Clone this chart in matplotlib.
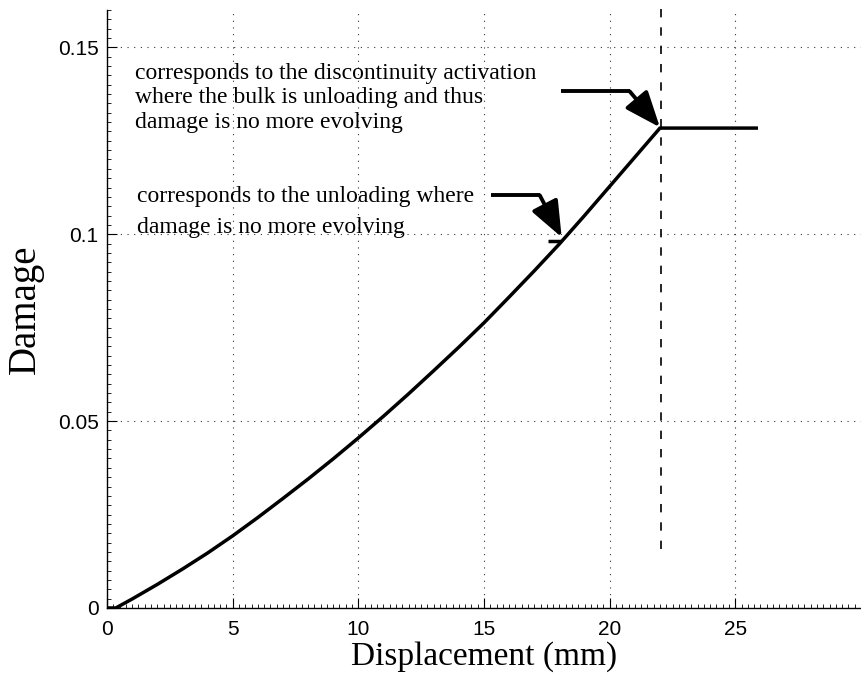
import matplotlib
matplotlib.use("Agg")
import matplotlib.pyplot as plt
from matplotlib.ticker import MultipleLocator

# Data
disp = [0.0, 0.35, 1, 2, 3, 4, 5, 6, 7, 8, 9, 10, 11, 12, 13, 14, 15, 16, 17, 18,
        19, 20, 21, 22.0, 23.9, 25.9]
damage = [0.0, 0.0, 0.0024, 0.0063, 0.0104, 0.0147, 0.0193, 0.0242, 0.0293, 0.0345,
          0.0399, 0.0455, 0.0513, 0.0573, 0.0635, 0.0698, 0.0763, 0.0832, 0.0902,
          0.0974, 0.1050, 0.1128, 0.1206, 0.1284, 0.1284, 0.1284]
unload_x = [17.55, 18.05]
unload_y = [0.0981, 0.0981]
activation_x = 22.05
activation_y = [0.0158, 0.163]

xticks = [0, 5, 10, 15, 20, 25]
yticks = [0, 0.05, 0.1, 0.15]
ytick_labels = ["0", "0.05", "0.1", "0.15"]

note1 = ["corresponds to the discontinuity activation",
         "where the bulk is unloading and thus",
         "damage is no more evolving"]
note2 = ["corresponds to the unloading where",
         "damage is no more evolving"]

serif = ["Liberation Serif", "DejaVu Serif"]
sans = ["Liberation Sans", "DejaVu Sans"]

fig = plt.figure(figsize=(8.61, 6.93), dpi=100)
ax = fig.add_axes([0.1243, 0.1227, 0.8757, 0.8629])

ax.plot(disp, damage, color="black", lw=2.5, solid_capstyle="butt", solid_joinstyle="round")
ax.plot(unload_x, unload_y, color="black", lw=2.5, solid_capstyle="butt")
ax.plot([activation_x, activation_x], activation_y, color="black", lw=1.2,
        linestyle=(0, (5, 6)), clip_on=False)

ax.set_xlim(0, 30)
ax.set_ylim(0, 0.16)
ax.set_xticks(xticks)
ax.set_xticklabels([str(t) for t in xticks], fontfamily=sans, fontsize=15)
ax.set_yticks(yticks)
ax.set_yticklabels(ytick_labels, fontfamily=sans, fontsize=15)
ax.xaxis.set_minor_locator(MultipleLocator(0.25))
ax.yaxis.set_minor_locator(MultipleLocator(0.0025))
ax.tick_params(which="major", direction="in", length=7, width=0.8)
ax.tick_params(axis="x", which="major", pad=9)
ax.tick_params(axis="y", which="major", pad=6)
ax.tick_params(which="minor", direction="in", length=3, width=0.6)
for s in ["top", "right"]:
    ax.spines[s].set_visible(False)
for s in ["left", "bottom"]:
    ax.spines[s].set_linewidth(1.0)

ax.grid(True, which="major", color="black", linestyle=(0, (1, 5)), linewidth=0.8, alpha=0.8)

ax.set_xlabel("Displacement (mm)", fontfamily=serif, fontsize=24, labelpad=1)
ax.set_ylabel("Damage", fontfamily=serif, fontsize=28, labelpad=10)

# Annotations
for txt, yy in zip(note1, [0.1430, 0.1366, 0.1300]):
    ax.text(1.1, yy, txt, fontfamily=serif, fontsize=17, va="center", ha="left")
for txt, yy in zip(note2, [0.1102, 0.1017]):
    ax.text(1.2, yy, txt, fontfamily=serif, fontsize=17, va="center", ha="left")

arrow = dict(arrowstyle="-|>,head_length=1.0,head_width=0.4", color="black", lw=2.8,
             mutation_scale=22, shrinkA=0, shrinkB=0)
ax.plot([18.05, 20.8], [0.1382, 0.1382], color="black", lw=2.8, solid_capstyle="butt")
ax.annotate("", xy=(22.0, 0.1286), xytext=(20.8, 0.1382), arrowprops=arrow)
ax.plot([15.27, 17.22], [0.1104, 0.1104], color="black", lw=2.8, solid_capstyle="butt")
ax.annotate("", xy=(18.09, 0.0992), xytext=(17.22, 0.1104), arrowprops=arrow)

fig.savefig("out.png", dpi=100)
